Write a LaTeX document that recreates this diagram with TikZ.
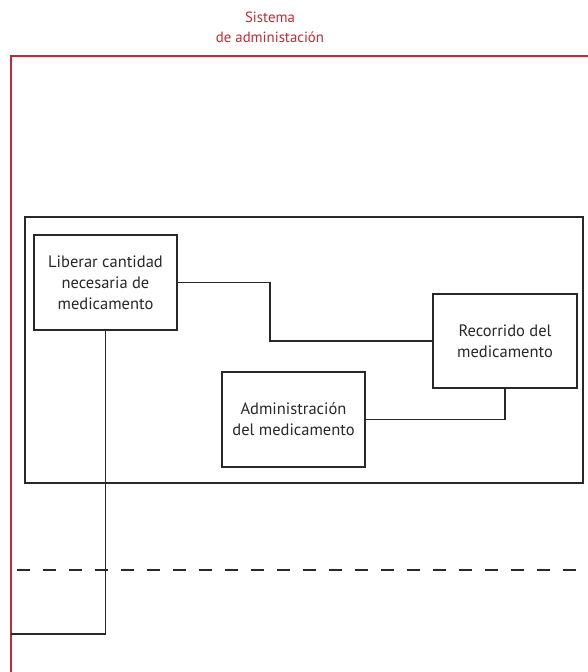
\documentclass[tikz,border=0pt]{standalone}
\usepackage{fontspec}
\setmainfont{PT Sans}
\definecolor{sysred}{RGB}{200,40,50}
\definecolor{ink}{RGB}{40,40,40}
\begin{document}
\begin{tikzpicture}[x=1pt,y=-1pt,
  procbox/.style={draw=ink, line width=1.3pt, minimum width=143pt, minimum height=95pt,
    align=center, text=ink, font=\fontsize{16.5}{21}\selectfont, inner sep=0pt},
  link/.style={draw=ink, line width=1.3pt},
  title/.style={text=sysred, align=center, font=\fontsize{14.8}{20}\selectfont}]
  \useasboundingbox (0,0) rectangle (587,672);
  \fill[white] (0,0) rectangle (587,672);
  % system boundary (only top and left edges are within the page)
  \draw[sysred, line width=2.2pt] (11,700) -- (11,56) -- (600,56);
  \node[title] (ttl) at (270,27) {Sistema\\de administación};
  % inner frame
  \draw[ink, line width=1.3pt] (25,217) rectangle (583,483);
  % process boxes
  \node[procbox] (lib) at (105.5,282.5) {Liberar cantidad\\necesaria de\\medicamento};
  \node[procbox, minimum width=144pt, minimum height=94pt] (rec) at (505,341) {Recorrido del\\medicamento};
  \node[procbox] (adm) at (293.5,419.5) {Administración\\del medicamento};
  % connectors
  \coordinate (out) at (11,634);
  \draw[link] (lib.east) -- (270,282.5) |- (rec.west);
  \draw[link] (rec.south) |- (adm.east);
  \draw[link] (lib.south) |- (out);
  % dashed separator
  \draw[ink, line width=1.5pt, dash pattern=on 13pt off 13pt] (17,570) -- (600,570);
\end{tikzpicture}
\end{document}
